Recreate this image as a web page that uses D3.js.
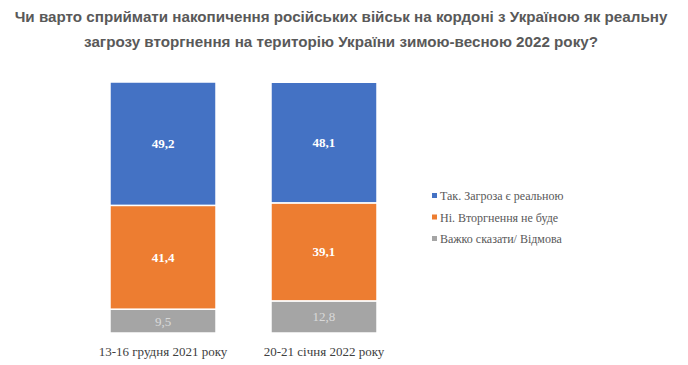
<!DOCTYPE html>
<html><head><meta charset="utf-8">
<script src="https://cdn.jsdelivr.net/npm/d3@7"></script>
<style>body{margin:0;background:#fff;}svg{display:block;} .serif{font-family:"Liberation Serif","DejaVu Serif","Times New Roman",serif;}</style>
</head><body>
<script>
const categories = ["13-16 грудня 2021 року", "20-21 січня 2022 року"];
const seriesNames = ["Так. Загроза є реальною", "Ні. Вторгнення не буде", "Важко сказати/ Відмова"];
const yes = [49.2, 48.1];
const no = [41.4, 39.1];
const hard = [9.5, 12.8];
const colors = ["#4472c4", "#ed7d31", "#a5a5a5"];
const labelColors = ["#ffffff", "#ffffff", "#d9d9d9"];
const titleLines = ["Чи варто сприймати накопичення російських військ на кордоні з Україною як реальну", "загрозу вторгнення на територію України зимою-весною 2022 року?"];

const W = 688, H = 365;
const svg = d3.select("body").append("svg").attr("width", W).attr("height", H);

svg.selectAll("text.title").data(titleLines).enter().append("text")
  .attr("x", 341).attr("y", (d, i) => 22 + i * 25)
  .attr("text-anchor", "middle")
  .style("font-family", "'Liberation Sans', Arial, sans-serif")
  .attr("font-weight", "bold").attr("font-size", 15.2).attr("fill", "#595959")
  .text(d => d);

const data = categories.map((c, i) => ({cat: c, v: [yes[i], no[i], hard[i]]}));
const x = d3.scaleBand().domain(categories).range([45.6, 441.4]).paddingInner(0.3416).paddingOuter(0.4);
const y = d3.scaleLinear().domain([0, 100.1]).range([333, 82]);

data.forEach(d => {
  const order = [2, 1, 0];
  let cum = 0;
  const g = svg.append("g");
  order.forEach(k => {
    const v = d.v[k];
    const y0 = cum, y1 = cum + v;
    cum = y1;
    g.append("rect")
      .attr("x", x(d.cat)).attr("width", x.bandwidth())
      .attr("y", y(y1)).attr("height", y(y0) - y(y1))
      .attr("fill", colors[k]).attr("stroke", "#fff").attr("stroke-width", 1.5);
    g.append("text").attr("class", "serif")
      .attr("x", x(d.cat) + x.bandwidth() / 2)
      .attr("y", (y(y0) + y(y1)) / 2 + 4.5)
      .attr("text-anchor", "middle")
      .attr("font-weight", k < 2 ? "bold" : "normal")
      .attr("font-size", 13).attr("fill", labelColors[k])
      .text(String(v).replace(".", ","));
  });
});

svg.append("g").selectAll("text").data(categories).enter().append("text").attr("class", "serif")
  .attr("x", d => x(d) + x.bandwidth() / 2).attr("y", 356)
  .attr("text-anchor", "middle")
  .attr("font-size", 13).attr("fill", "#404040")
  .text(d => d);

const leg = svg.append("g");
seriesNames.forEach((s, i) => {
  const ly = 196 + i * 21.5;
  leg.append("rect").attr("x", 432).attr("y", ly - 3).attr("width", 5).attr("height", 5).attr("fill", colors[i]);
  leg.append("text").attr("class", "serif").attr("x", 440).attr("y", ly + 4)
    .attr("font-size", 12).attr("fill", "#595959").text(s);
});
</script>
</body></html>
